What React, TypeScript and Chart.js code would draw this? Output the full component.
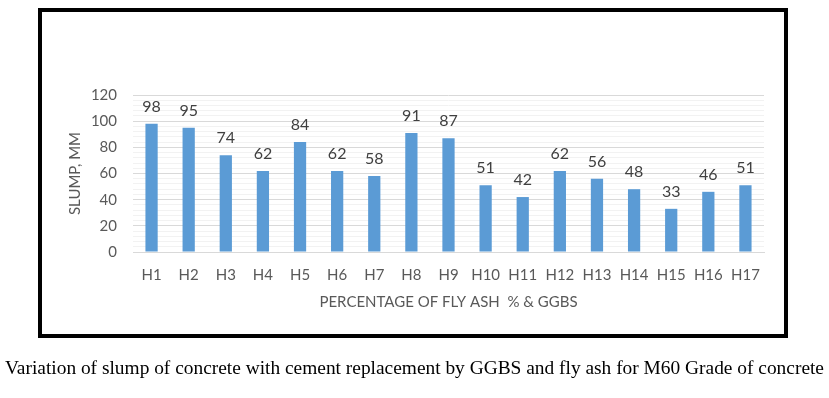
import React, { useEffect, useRef } from "react";
import { Chart, registerables } from "chart.js";

Chart.register(...registerables);

const categories = ["H1","H2","H3","H4","H5","H6","H7","H8","H9","H10","H11","H12","H13","H14","H15","H16","H17"];
const slump = [98, 95, 74, 62, 84, 62, 58, 91, 87, 51, 42, 62, 56, 48, 33, 46, 51];
const yTitle = "SLUMP, MM";
const xTitle = "PERCENTAGE OF FLY ASH  % & GGBS";
const caption = "Variation of slump of concrete with cement replacement by GGBS and fly ash for M60 Grade of concrete";

const FONT = "Lato, 'Open Sans', sans-serif";

const labelPlugin = {
  id: "barLabels",
  afterDatasetsDraw(chart: any) {
    const ctx = chart.ctx;
    const meta = chart.getDatasetMeta(0);
    ctx.save();
    ctx.fillStyle = "#404040";
    ctx.font = `16px ${FONT}`;
    ctx.textAlign = "center";
    ctx.textBaseline = "alphabetic";
    meta.data.forEach((bar: any, i: number) => {
      ctx.fillText(String(chart.data.datasets[0].data[i]), bar.x, bar.y - 12);
    });
    ctx.restore();
  },
};

export default function App() {
  const ref = useRef<HTMLCanvasElement>(null);
  useEffect(() => {
    if (!ref.current) return;
    const chart = new Chart(ref.current, {
      type: "bar",
      data: {
        labels: categories,
        datasets: [
          {
            data: slump,
            backgroundColor: "#5B9BD5",
            barPercentage: 0.33,
            categoryPercentage: 1,
          },
        ],
      },
      plugins: [labelPlugin],
      options: {
        animation: false,
        responsive: false,
        devicePixelRatio: 1,
        layout: { padding: { left: 66, top: 95, right: 65, bottom: 87 } },
        plugins: { legend: { display: false }, tooltip: { enabled: false } },
        scales: {
          x: {
            grid: { display: false, drawTicks: false },
            border: { display: true, color: "#D9D9D9", width: 1 },
            ticks: { color: "#595959", font: { family: FONT, size: 15 }, padding: 14, autoSkip: false, maxRotation: 0 },
            title: { display: true, text: xTitle, color: "#595959", font: { family: FONT, size: 15 }, padding: { top: 4, bottom: 0 } },
            afterFit(scale: any) { scale.height = 59; },
          },
          y: {
            min: 0,
            max: 120,
            ticks: {
              stepSize: 4,
              autoSkip: false,
              color: "#595959",
              font: { family: FONT, size: 15 },
              padding: 16,
              callback: (v: any) => (Number(v) % 20 === 0 ? String(v) : ""),
            },
            grid: {
              drawTicks: false,
              color: (c: any) => (c.tick && c.tick.value % 20 === 0 ? "#D9D9D9" : "#F2F2F2"),
              lineWidth: 1,
            },
            border: { display: false },
            title: { display: true, text: yTitle, color: "#595959", font: { family: FONT, size: 15 }, padding: { top: 0, bottom: 0 } },
            afterFit(scale: any) { scale.width = 67; },
          },
        },
      },
    });
    return () => chart.destroy();
  }, []);

  return (
    <div style={{ position: "fixed", left: 0, top: 0, width: 829, height: 398, background: "#fff", overflow: "hidden" }}>
      <div style={{ position: "absolute", left: 38, top: 8, width: 742, height: 322, border: "4px solid #000" }} />
      <canvas ref={ref} width={829} height={398} style={{ position: "absolute", left: 0, top: 0 }} />
      <div
        style={{
          position: "absolute",
          left: 0,
          top: 357,
          width: 829,
          textAlign: "center",
          fontFamily: "'Liberation Serif', 'Times New Roman', serif",
          fontSize: 19.4,
          color: "#000",
          whiteSpace: "nowrap",
        }}
      >
        {caption}
      </div>
    </div>
  );
}
